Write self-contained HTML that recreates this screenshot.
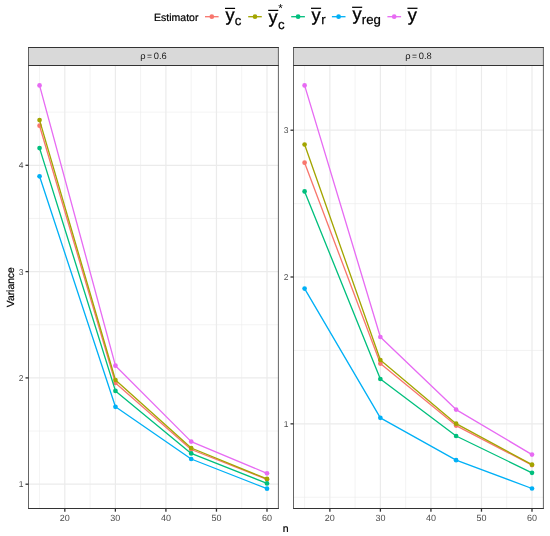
<!DOCTYPE html><html><head><meta charset="utf-8"><title>plot</title><style>html,body{margin:0;padding:0;background:#fff}svg{display:block;will-change:transform}text{text-rendering:geometricPrecision;font-family:"Liberation Sans",sans-serif}</style></head><body>
<svg width="550" height="536" viewBox="0 0 550 536">
<rect width="550" height="536" fill="#fff"/>
<rect x="28.5" y="65.5" width="249.89999999999998" height="443.0" fill="#fff"/>
<line x1="39.55" x2="39.55" y1="65.5" y2="508.5" stroke="#EBEBEB" stroke-width="0.6"/>
<line x1="90.09" x2="90.09" y1="65.5" y2="508.5" stroke="#EBEBEB" stroke-width="0.6"/>
<line x1="140.64" x2="140.64" y1="65.5" y2="508.5" stroke="#EBEBEB" stroke-width="0.6"/>
<line x1="191.18" x2="191.18" y1="65.5" y2="508.5" stroke="#EBEBEB" stroke-width="0.6"/>
<line x1="241.73" x2="241.73" y1="65.5" y2="508.5" stroke="#EBEBEB" stroke-width="0.6"/>
<line x1="28.5" x2="278.4" y1="431.05" y2="431.05" stroke="#EBEBEB" stroke-width="0.6"/>
<line x1="28.5" x2="278.4" y1="324.75" y2="324.75" stroke="#EBEBEB" stroke-width="0.6"/>
<line x1="28.5" x2="278.4" y1="218.45" y2="218.45" stroke="#EBEBEB" stroke-width="0.6"/>
<line x1="28.5" x2="278.4" y1="112.15" y2="112.15" stroke="#EBEBEB" stroke-width="0.6"/>
<line x1="64.82" x2="64.82" y1="65.5" y2="508.5" stroke="#EBEBEB" stroke-width="1.2"/>
<line x1="115.37" x2="115.37" y1="65.5" y2="508.5" stroke="#EBEBEB" stroke-width="1.2"/>
<line x1="165.91" x2="165.91" y1="65.5" y2="508.5" stroke="#EBEBEB" stroke-width="1.2"/>
<line x1="216.46" x2="216.46" y1="65.5" y2="508.5" stroke="#EBEBEB" stroke-width="1.2"/>
<line x1="267.00" x2="267.00" y1="65.5" y2="508.5" stroke="#EBEBEB" stroke-width="1.2"/>
<line x1="28.5" x2="278.4" y1="484.20" y2="484.20" stroke="#EBEBEB" stroke-width="1.2"/>
<line x1="28.5" x2="278.4" y1="377.90" y2="377.90" stroke="#EBEBEB" stroke-width="1.2"/>
<line x1="28.5" x2="278.4" y1="271.60" y2="271.60" stroke="#EBEBEB" stroke-width="1.2"/>
<line x1="28.5" x2="278.4" y1="165.30" y2="165.30" stroke="#EBEBEB" stroke-width="1.2"/>
<circle cx="39.55" cy="125.70" r="2.35" fill="#F8766D"/>
<circle cx="115.45" cy="383.00" r="2.35" fill="#F8766D"/>
<circle cx="191.20" cy="449.50" r="2.35" fill="#F8766D"/>
<circle cx="267.00" cy="479.30" r="2.35" fill="#F8766D"/>
<polyline points="39.55,125.70 115.45,383.00 191.20,449.50 267.00,479.30" fill="none" stroke="#F8766D" stroke-width="1.32" stroke-linejoin="round"/>
<circle cx="39.55" cy="120.10" r="2.35" fill="#A3A500"/>
<circle cx="115.45" cy="380.00" r="2.35" fill="#A3A500"/>
<circle cx="191.20" cy="448.00" r="2.35" fill="#A3A500"/>
<circle cx="267.00" cy="478.90" r="2.35" fill="#A3A500"/>
<polyline points="39.55,120.10 115.45,380.00 191.20,448.00 267.00,478.90" fill="none" stroke="#A3A500" stroke-width="1.32" stroke-linejoin="round"/>
<circle cx="39.55" cy="148.10" r="2.35" fill="#00BF7D"/>
<circle cx="115.45" cy="390.90" r="2.35" fill="#00BF7D"/>
<circle cx="191.20" cy="453.40" r="2.35" fill="#00BF7D"/>
<circle cx="267.00" cy="483.40" r="2.35" fill="#00BF7D"/>
<polyline points="39.55,148.10 115.45,390.90 191.20,453.40 267.00,483.40" fill="none" stroke="#00BF7D" stroke-width="1.32" stroke-linejoin="round"/>
<circle cx="39.55" cy="176.30" r="2.35" fill="#00B0F6"/>
<circle cx="115.45" cy="406.80" r="2.35" fill="#00B0F6"/>
<circle cx="191.20" cy="459.00" r="2.35" fill="#00B0F6"/>
<circle cx="267.00" cy="488.70" r="2.35" fill="#00B0F6"/>
<polyline points="39.55,176.30 115.45,406.80 191.20,459.00 267.00,488.70" fill="none" stroke="#00B0F6" stroke-width="1.32" stroke-linejoin="round"/>
<circle cx="39.55" cy="85.40" r="2.35" fill="#E76BF3"/>
<circle cx="115.45" cy="365.70" r="2.35" fill="#E76BF3"/>
<circle cx="191.20" cy="441.60" r="2.35" fill="#E76BF3"/>
<circle cx="267.00" cy="473.30" r="2.35" fill="#E76BF3"/>
<polyline points="39.55,85.40 115.45,365.70 191.20,441.60 267.00,473.30" fill="none" stroke="#E76BF3" stroke-width="1.32" stroke-linejoin="round"/>
<rect x="28.5" y="47.5" width="249.89999999999998" height="18.0" fill="#D9D9D9"/>
<line x1="28.1" x2="278.79999999999995" y1="47.5" y2="47.5" stroke="#333" stroke-width="1.0"/>
<line x1="28.1" x2="278.79999999999995" y1="65.5" y2="65.5" stroke="#333" stroke-width="1.0"/>
<line x1="28.1" x2="278.79999999999995" y1="508.5" y2="508.5" stroke="#333" stroke-width="1.0"/>
<line x1="28.5" x2="28.5" y1="47.0" y2="509.0" stroke="#3d3d3d" stroke-width="0.8"/>
<line x1="278.4" x2="278.4" y1="47.0" y2="509.0" stroke="#3d3d3d" stroke-width="0.8"/>
<g font-size="9.3" fill="#1A1A1A"><text x="140.30" y="58.7">ρ</text><text x="147.07" y="58.85" font-size="8.5">=</text><text x="153.84" y="58.7">0.6</text></g>
<line x1="64.82" x2="64.82" y1="508.5" y2="511.7" stroke="#333" stroke-width="1.3"/>
<text x="64.82" y="520.8" font-size="9.0" fill="#4D4D4D" text-anchor="middle">20</text>
<line x1="115.37" x2="115.37" y1="508.5" y2="511.7" stroke="#333" stroke-width="1.3"/>
<text x="115.37" y="520.8" font-size="9.0" fill="#4D4D4D" text-anchor="middle">30</text>
<line x1="165.91" x2="165.91" y1="508.5" y2="511.7" stroke="#333" stroke-width="1.3"/>
<text x="165.91" y="520.8" font-size="9.0" fill="#4D4D4D" text-anchor="middle">40</text>
<line x1="216.46" x2="216.46" y1="508.5" y2="511.7" stroke="#333" stroke-width="1.3"/>
<text x="216.46" y="520.8" font-size="9.0" fill="#4D4D4D" text-anchor="middle">50</text>
<line x1="267.00" x2="267.00" y1="508.5" y2="511.7" stroke="#333" stroke-width="1.3"/>
<text x="267.00" y="520.8" font-size="9.0" fill="#4D4D4D" text-anchor="middle">60</text>
<line x1="25.5" x2="28.5" y1="484.20" y2="484.20" stroke="#333" stroke-width="1.3"/>
<text x="23.40" y="487.20" font-size="8.5" fill="#4D4D4D" text-anchor="end">1</text>
<line x1="25.5" x2="28.5" y1="377.90" y2="377.90" stroke="#333" stroke-width="1.3"/>
<text x="23.40" y="380.90" font-size="8.5" fill="#4D4D4D" text-anchor="end">2</text>
<line x1="25.5" x2="28.5" y1="271.60" y2="271.60" stroke="#333" stroke-width="1.3"/>
<text x="23.40" y="274.60" font-size="8.5" fill="#4D4D4D" text-anchor="end">3</text>
<line x1="25.5" x2="28.5" y1="165.30" y2="165.30" stroke="#333" stroke-width="1.3"/>
<text x="23.40" y="168.30" font-size="8.5" fill="#4D4D4D" text-anchor="end">4</text>
<rect x="293.5" y="65.5" width="249.89999999999998" height="443.0" fill="#fff"/>
<line x1="304.60" x2="304.60" y1="65.5" y2="508.5" stroke="#EBEBEB" stroke-width="0.6"/>
<line x1="355.13" x2="355.13" y1="65.5" y2="508.5" stroke="#EBEBEB" stroke-width="0.6"/>
<line x1="405.67" x2="405.67" y1="65.5" y2="508.5" stroke="#EBEBEB" stroke-width="0.6"/>
<line x1="456.20" x2="456.20" y1="65.5" y2="508.5" stroke="#EBEBEB" stroke-width="0.6"/>
<line x1="506.73" x2="506.73" y1="65.5" y2="508.5" stroke="#EBEBEB" stroke-width="0.6"/>
<line x1="293.5" x2="543.4" y1="497.26" y2="497.26" stroke="#EBEBEB" stroke-width="0.6"/>
<line x1="293.5" x2="543.4" y1="350.44" y2="350.44" stroke="#EBEBEB" stroke-width="0.6"/>
<line x1="293.5" x2="543.4" y1="203.61" y2="203.61" stroke="#EBEBEB" stroke-width="0.6"/>
<line x1="329.87" x2="329.87" y1="65.5" y2="508.5" stroke="#EBEBEB" stroke-width="1.2"/>
<line x1="380.40" x2="380.40" y1="65.5" y2="508.5" stroke="#EBEBEB" stroke-width="1.2"/>
<line x1="430.93" x2="430.93" y1="65.5" y2="508.5" stroke="#EBEBEB" stroke-width="1.2"/>
<line x1="481.47" x2="481.47" y1="65.5" y2="508.5" stroke="#EBEBEB" stroke-width="1.2"/>
<line x1="532.00" x2="532.00" y1="65.5" y2="508.5" stroke="#EBEBEB" stroke-width="1.2"/>
<line x1="293.5" x2="543.4" y1="423.85" y2="423.85" stroke="#EBEBEB" stroke-width="1.2"/>
<line x1="293.5" x2="543.4" y1="277.00" y2="277.00" stroke="#EBEBEB" stroke-width="1.2"/>
<line x1="293.5" x2="543.4" y1="130.20" y2="130.20" stroke="#EBEBEB" stroke-width="1.2"/>
<circle cx="304.60" cy="162.70" r="2.35" fill="#F8766D"/>
<circle cx="380.35" cy="363.60" r="2.35" fill="#F8766D"/>
<circle cx="456.10" cy="425.60" r="2.35" fill="#F8766D"/>
<circle cx="532.00" cy="465.10" r="2.35" fill="#F8766D"/>
<polyline points="304.60,162.70 380.35,363.60 456.10,425.60 532.00,465.10" fill="none" stroke="#F8766D" stroke-width="1.32" stroke-linejoin="round"/>
<circle cx="304.60" cy="144.50" r="2.35" fill="#A3A500"/>
<circle cx="380.35" cy="360.00" r="2.35" fill="#A3A500"/>
<circle cx="456.10" cy="423.70" r="2.35" fill="#A3A500"/>
<circle cx="532.00" cy="464.70" r="2.35" fill="#A3A500"/>
<polyline points="304.60,144.50 380.35,360.00 456.10,423.70 532.00,464.70" fill="none" stroke="#A3A500" stroke-width="1.32" stroke-linejoin="round"/>
<circle cx="304.60" cy="191.40" r="2.35" fill="#00BF7D"/>
<circle cx="380.35" cy="379.00" r="2.35" fill="#00BF7D"/>
<circle cx="456.10" cy="436.00" r="2.35" fill="#00BF7D"/>
<circle cx="532.00" cy="472.80" r="2.35" fill="#00BF7D"/>
<polyline points="304.60,191.40 380.35,379.00 456.10,436.00 532.00,472.80" fill="none" stroke="#00BF7D" stroke-width="1.32" stroke-linejoin="round"/>
<circle cx="304.60" cy="288.60" r="2.35" fill="#00B0F6"/>
<circle cx="380.35" cy="417.80" r="2.35" fill="#00B0F6"/>
<circle cx="456.10" cy="460.20" r="2.35" fill="#00B0F6"/>
<circle cx="532.00" cy="488.50" r="2.35" fill="#00B0F6"/>
<polyline points="304.60,288.60 380.35,417.80 456.10,460.20 532.00,488.50" fill="none" stroke="#00B0F6" stroke-width="1.32" stroke-linejoin="round"/>
<circle cx="304.60" cy="85.40" r="2.35" fill="#E76BF3"/>
<circle cx="380.35" cy="337.00" r="2.35" fill="#E76BF3"/>
<circle cx="456.10" cy="409.60" r="2.35" fill="#E76BF3"/>
<circle cx="532.00" cy="454.60" r="2.35" fill="#E76BF3"/>
<polyline points="304.60,85.40 380.35,337.00 456.10,409.60 532.00,454.60" fill="none" stroke="#E76BF3" stroke-width="1.32" stroke-linejoin="round"/>
<rect x="293.5" y="47.5" width="249.89999999999998" height="18.0" fill="#D9D9D9"/>
<line x1="293.1" x2="543.8" y1="47.5" y2="47.5" stroke="#333" stroke-width="1.0"/>
<line x1="293.1" x2="543.8" y1="65.5" y2="65.5" stroke="#333" stroke-width="1.0"/>
<line x1="293.1" x2="543.8" y1="508.5" y2="508.5" stroke="#333" stroke-width="1.0"/>
<line x1="293.5" x2="293.5" y1="47.0" y2="509.0" stroke="#3d3d3d" stroke-width="0.8"/>
<line x1="543.4" x2="543.4" y1="47.0" y2="509.0" stroke="#3d3d3d" stroke-width="0.8"/>
<g font-size="9.3" fill="#1A1A1A"><text x="405.30" y="58.7">ρ</text><text x="412.07" y="58.85" font-size="8.5">=</text><text x="418.84" y="58.7">0.8</text></g>
<line x1="329.87" x2="329.87" y1="508.5" y2="511.7" stroke="#333" stroke-width="1.3"/>
<text x="329.87" y="520.8" font-size="9.0" fill="#4D4D4D" text-anchor="middle">20</text>
<line x1="380.40" x2="380.40" y1="508.5" y2="511.7" stroke="#333" stroke-width="1.3"/>
<text x="380.40" y="520.8" font-size="9.0" fill="#4D4D4D" text-anchor="middle">30</text>
<line x1="430.93" x2="430.93" y1="508.5" y2="511.7" stroke="#333" stroke-width="1.3"/>
<text x="430.93" y="520.8" font-size="9.0" fill="#4D4D4D" text-anchor="middle">40</text>
<line x1="481.47" x2="481.47" y1="508.5" y2="511.7" stroke="#333" stroke-width="1.3"/>
<text x="481.47" y="520.8" font-size="9.0" fill="#4D4D4D" text-anchor="middle">50</text>
<line x1="532.00" x2="532.00" y1="508.5" y2="511.7" stroke="#333" stroke-width="1.3"/>
<text x="532.00" y="520.8" font-size="9.0" fill="#4D4D4D" text-anchor="middle">60</text>
<line x1="290.5" x2="293.5" y1="423.85" y2="423.85" stroke="#333" stroke-width="1.3"/>
<text x="288.40" y="426.85" font-size="8.5" fill="#4D4D4D" text-anchor="end">1</text>
<line x1="290.5" x2="293.5" y1="277.00" y2="277.00" stroke="#333" stroke-width="1.3"/>
<text x="288.40" y="280.00" font-size="8.5" fill="#4D4D4D" text-anchor="end">2</text>
<line x1="290.5" x2="293.5" y1="130.20" y2="130.20" stroke="#333" stroke-width="1.3"/>
<text x="288.40" y="133.20" font-size="8.5" fill="#4D4D4D" text-anchor="end">3</text>
<text x="285.7" y="531.5" font-size="10.5" fill="#000" stroke="#000" stroke-width="0.22" text-anchor="middle">n</text>
<text transform="translate(13.7,287.2) rotate(-90)" font-size="10.3" fill="#000" stroke="#000" stroke-width="0.22" text-anchor="middle">Variance</text>
<text x="154.1" y="20.5" font-size="10.5" fill="#000" stroke="#000" stroke-width="0.22">Estimator</text>
<line x1="205" x2="218.6" y1="16.7" y2="16.7" stroke="#F8766D" stroke-width="1.32"/><circle cx="211.8" cy="16.7" r="2.35" fill="#F8766D"/>
<line x1="248.2" x2="261.8" y1="16.7" y2="16.7" stroke="#A3A500" stroke-width="1.32"/><circle cx="255.0" cy="16.7" r="2.35" fill="#A3A500"/>
<line x1="291.2" x2="304.9" y1="16.7" y2="16.7" stroke="#00BF7D" stroke-width="1.32"/><circle cx="298.1" cy="16.7" r="2.35" fill="#00BF7D"/>
<line x1="331.9" x2="345.5" y1="16.7" y2="16.7" stroke="#00B0F6" stroke-width="1.32"/><circle cx="338.6" cy="16.7" r="2.35" fill="#00B0F6"/>
<line x1="387.4" x2="401.1" y1="16.7" y2="16.7" stroke="#E76BF3" stroke-width="1.32"/><circle cx="394.2" cy="16.7" r="2.35" fill="#E76BF3"/>
<text x="225.40" y="21.0" font-size="18.2" fill="#000" stroke="#000" stroke-width="0.3">y</text>
<line x1="225.00" x2="235.10" y1="8.4" y2="8.4" stroke="#000" stroke-width="1.25"/>
<text x="234.8" y="24.5" font-size="13.2" fill="#000" stroke="#000" stroke-width="0.25">c</text>
<text x="268.60" y="23.0" font-size="18.2" fill="#000" stroke="#000" stroke-width="0.3">y</text>
<line x1="268.20" x2="278.30" y1="10.4" y2="10.4" stroke="#000" stroke-width="1.25"/>
<text x="277.9" y="29.0" font-size="13.2" fill="#000" stroke="#000" stroke-width="0.25">c</text>
<text x="278.2" y="12.3" font-size="11.5" fill="#000">*</text>
<text x="311.40" y="21.1" font-size="18.2" fill="#000" stroke="#000" stroke-width="0.3">y</text>
<line x1="311.00" x2="321.10" y1="8.3" y2="8.3" stroke="#000" stroke-width="1.25"/>
<text x="321.3" y="24.3" font-size="13.2" fill="#000" stroke="#000" stroke-width="0.25">r</text>
<text x="352.50" y="20.0" font-size="18.2" fill="#000" stroke="#000" stroke-width="0.3">y</text>
<line x1="352.10" x2="362.20" y1="7.3" y2="7.3" stroke="#000" stroke-width="1.25"/>
<text x="361.8" y="23.5" font-size="13.2" fill="#000" stroke="#000" stroke-width="0.25">reg</text>
<text x="407.80" y="21.1" font-size="18.2" fill="#000" stroke="#000" stroke-width="0.3">y</text>
<line x1="407.40" x2="417.50" y1="8.3" y2="8.3" stroke="#000" stroke-width="1.25"/>
</svg></body></html>
